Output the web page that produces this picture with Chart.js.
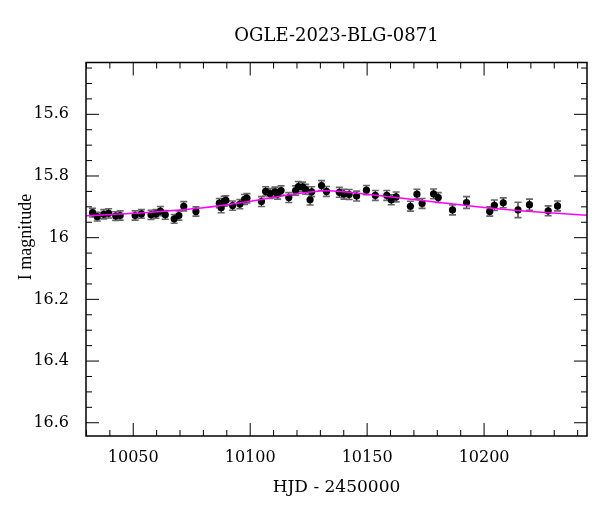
<!DOCTYPE html>
<html>
<head>
<meta charset="utf-8">
<script src="https://cdn.jsdelivr.net/npm/chart.js@4.4.0/dist/chart.umd.min.js"></script>
<style>
  html, body { margin: 0; padding: 0; background: #fff; }
  #wrap { width: 600px; height: 512px; }
</style>
</head>
<body>
<div id="wrap"><canvas id="lcChart"></canvas></div>
<script>
// photometry (HJD - 2450000, I mag, error)
const hjd = [
  10032.6, 10034.6, 10037.4, 10039.5, 10042.5, 10044.4, 10050.8, 10053.5, 10057.6, 10059.7,
  10061.6, 10063.7, 10067.5, 10069.5, 10071.6, 10076.8, 10086.8, 10087.6, 10088.9, 10089.6,
  10092.5, 10095.6, 10097.6, 10098.6, 10104.8, 10106.6, 10108.5, 10110.6, 10111.7, 10113.2,
  10116.5, 10119.4, 10120.6, 10122.4, 10123.7, 10125.6, 10126.3, 10130.5, 10132.6, 10138.1,
  10140.1, 10142.3, 10145.5, 10149.7, 10153.5, 10158.4, 10160.3, 10162.4, 10168.5, 10171.3,
  10173.5, 10178.4, 10180.4, 10186.5, 10192.5, 10202.4, 10204.4, 10208.2, 10214.5, 10219.4,
  10227.4, 10231.4
];
const mag = [
  15.919, 15.932, 15.924, 15.921, 15.930, 15.928, 15.928, 15.923, 15.926, 15.923,
  15.914, 15.926, 15.939, 15.928, 15.898, 15.915, 15.888, 15.903, 15.882, 15.879,
  15.896, 15.891, 15.876, 15.872, 15.883, 15.850, 15.857, 15.851, 15.859, 15.847,
  15.870, 15.847, 15.834, 15.835, 15.843, 15.877, 15.851, 15.831, 15.850, 15.853,
  15.859, 15.860, 15.865, 15.846, 15.863, 15.863, 15.877, 15.868, 15.898, 15.859,
  15.889, 15.858, 15.870, 15.910, 15.886, 15.915, 15.895, 15.887, 15.910, 15.893,
  15.913, 15.897
];
const magErr = [
  0.014, 0.014, 0.015, 0.015, 0.014, 0.015, 0.015, 0.014, 0.015, 0.014,
  0.015, 0.014, 0.014, 0.015, 0.015, 0.015, 0.015, 0.016, 0.016, 0.015,
  0.015, 0.015, 0.016, 0.015, 0.016, 0.015, 0.016, 0.015, 0.016, 0.015,
  0.016, 0.015, 0.016, 0.015, 0.016, 0.017, 0.016, 0.016, 0.016, 0.016,
  0.016, 0.016, 0.016, 0.015, 0.016, 0.016, 0.016, 0.016, 0.016, 0.016,
  0.016, 0.016, 0.016, 0.016, 0.019, 0.015, 0.017, 0.016, 0.025, 0.018,
  0.016, 0.016
];

// model curve
const modelHjd = [10029, 10050, 10080, 10100, 10115, 10125, 10132, 10140, 10150, 10165, 10180, 10200, 10220, 10245];
const modelMag = [15.929, 15.921, 15.903, 15.882, 15.863, 15.853, 15.848, 15.851, 15.859, 15.872, 15.885, 15.902, 15.915, 15.928];

const xTicks = [10050, 10100, 10150, 10200];
const yTicks = [15.6, 15.8, 16, 16.2, 16.4, 16.6];
const xMinorStep = 10;
const yMinorStep = 0.05;

const titleText = 'OGLE-2023-BLG-0871';
const yTitleText = 'I magnitude';
const serif = 'DejaVu Serif';

function strokeLine(ctx, x1, y1, x2, y2) {
  ctx.beginPath();
  ctx.moveTo(x1, y1);
  ctx.lineTo(x2, y2);
  ctx.stroke();
}

// error bars under the points
const errorBars = {
  id: 'errorBars',
  beforeDatasetsDraw(chart) {
    const { ctx, chartArea: a, scales: { x, y } } = chart;
    ctx.save();
    ctx.beginPath();
    ctx.rect(a.left, a.top, a.width, a.height);
    ctx.clip();
    hjd.forEach((t, i) => {
      const px = x.getPixelForValue(t);
      const y1 = y.getPixelForValue(mag[i] - magErr[i]);
      const y2 = y.getPixelForValue(mag[i] + magErr[i]);
      ctx.strokeStyle = '#111';
      ctx.lineWidth = 1.2;
      strokeLine(ctx, px, y1, px, y2);
      ctx.strokeStyle = '#666';
      ctx.lineWidth = 1.6;
      strokeLine(ctx, px - 3.5, y1, px + 3.5, y1);
      strokeLine(ctx, px - 3.5, y2, px + 3.5, y2);
    });
    ctx.restore();
  }
};

// frame, inward ticks on all four sides, titles centred on the plot box
const frameTicks = {
  id: 'frameTicks',
  afterDraw(chart) {
    const { ctx, chartArea: a, scales: { x, y } } = chart;
    const major = 13, minor = 6;
    ctx.save();
    ctx.strokeStyle = '#000';
    ctx.lineWidth = 1;
    for (let v = Math.ceil(x.min / xMinorStep) * xMinorStep; v <= x.max; v += xMinorStep) {
      const px = x.getPixelForValue(v);
      const len = xTicks.includes(v) ? major : minor;
      strokeLine(ctx, px, a.bottom, px, a.bottom - len);
      strokeLine(ctx, px, a.top, px, a.top + len);
    }
    for (let k = Math.ceil(y.min / yMinorStep); k * yMinorStep <= y.max + 1e-9; k++) {
      const v = +(k * yMinorStep).toFixed(2);
      const py = y.getPixelForValue(v);
      const len = yTicks.includes(v) ? major : minor;
      strokeLine(ctx, a.left, py, a.left + len, py);
      strokeLine(ctx, a.right, py, a.right - len, py);
    }
    ctx.lineWidth = 1.5;
    ctx.strokeRect(a.left, a.top, a.width, a.height);

    ctx.fillStyle = '#000';
    ctx.textAlign = 'center';
    ctx.textBaseline = 'middle';
    ctx.font = '18px "' + serif + '"';
    ctx.fillText(titleText, (a.left + a.right) / 2, 36);

    ctx.translate(26, 237);
    ctx.rotate(-Math.PI / 2);
    ctx.font = '18px "Liberation Serif"';
    ctx.fillText(yTitleText, 0, 0);
    ctx.restore();
  }
};

new Chart(document.getElementById('lcChart'), {
  type: 'scatter',
  data: {
    datasets: [{
      type: 'line',
      label: 'model',
      data: modelHjd.map((t, i) => ({ x: t, y: modelMag[i] })),
      borderColor: '#ff00ff',
      borderWidth: 1.5,
      pointRadius: 0,
      tension: 0.4,
      fill: false
    }, {
      label: 'OGLE',
      data: hjd.map((t, i) => ({ x: t, y: mag[i] })),
      backgroundColor: '#000',
      borderColor: '#000',
      pointRadius: 3.6,
      pointBorderWidth: 0
    }]
  },
  options: {
    responsive: true,
    maintainAspectRatio: false,
    animation: false,
    layout: { padding: { left: 0, right: 13, top: 62.5, bottom: 0 } },
    plugins: {
      legend: { display: false },
      tooltip: { enabled: false },
      title: { display: false }
    },
    scales: {
      x: {
        type: 'linear',
        min: 10029.8,
        max: 10244,
        afterBuildTicks: s => { s.ticks = xTicks.map(v => ({ value: v })); },
        afterFit: s => { s.height = 76; },
        grid: { display: false, drawTicks: false },
        border: { display: false },
        ticks: {
          color: '#000',
          font: { family: serif, size: 16 },
          padding: 12,
          maxRotation: 0,
          autoSkip: false,
          callback: v => String(v)
        },
        title: {
          display: true,
          text: 'HJD - 2450000',
          color: '#000',
          font: { family: serif, size: 17 },
          padding: { top: 0, bottom: 14 }
        }
      },
      y: {
        type: 'linear',
        reverse: true,
        min: 15.432,
        max: 16.643,
        afterBuildTicks: s => { s.ticks = yTicks.map(v => ({ value: v })); },
        afterFit: s => { s.width = 86; },
        grid: { display: false, drawTicks: false },
        border: { display: false },
        ticks: {
          color: '#000',
          font: { family: serif, size: 16 },
          padding: 17,
          autoSkip: false,
          callback: v => String(Math.round(v * 10) / 10)
        }
      }
    }
  },
  plugins: [errorBars, frameTicks]
});
</script>
</body>
</html>
